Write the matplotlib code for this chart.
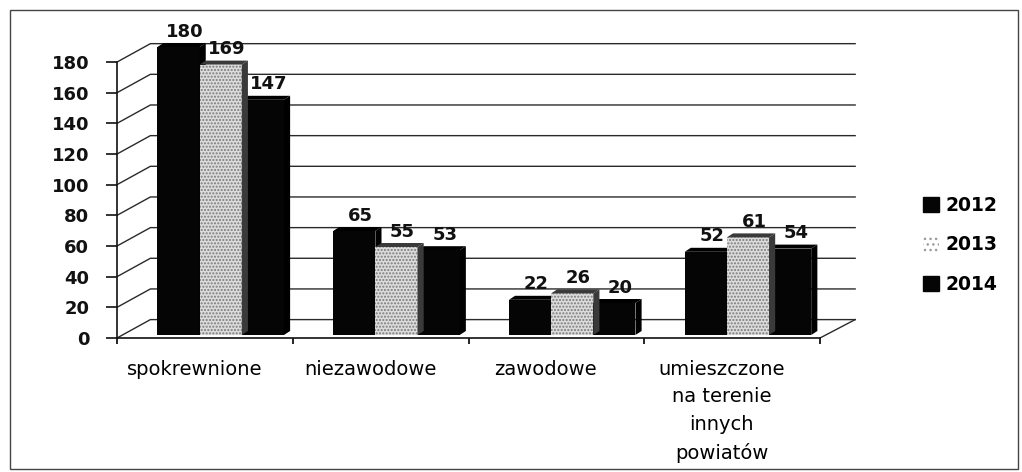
import matplotlib
matplotlib.use("Agg")
import matplotlib.pyplot as plt
from matplotlib.patches import Rectangle, Patch
import numpy as np

categories = ["spokrewnione", "niezawodowe", "zawodowe",
              "umieszczone\nna terenie\ninnych\npowiatów"]
years = ["2012", "2013", "2014"]
v2012 = [180, 65, 22, 52]
v2013 = [169, 55, 26, 61]
v2014 = [147, 53, 20, 54]
series = [v2012, v2013, v2014]
yticks = [0, 20, 40, 60, 80, 100, 120, 140, 160, 180]

plt.rcParams['font.family'] = ['DejaVu Sans']

fig = plt.figure(figsize=(10.22, 4.72), dpi=100)
fig.patch.set_facecolor('white')

# outer frame
fig.add_artist(Rectangle((10/1022, 3/472), 1008/1022, 459/472, transform=fig.transFigure,
                         fill=False, edgecolor='#444444', lw=1.0))

L, B = 117/1022, 134/472
W, H = 4.3*175.75/1022, 308/472

# front (wall/grid) axes
ax = fig.add_axes([L, B, W, H])
ax.set_xlim(0, 4.3)
ax.set_ylim(0, 308/1.533)
ax.patch.set_alpha(0)
for s in ['top', 'right']:
    ax.spines[s].set_visible(False)
ax.spines['left'].set_bounds(0, 180)
ax.spines['bottom'].set_bounds(0, 4)
for s in ['left', 'bottom']:
    ax.spines[s].set_color('#111111')
    ax.spines[s].set_linewidth(1.2)

ax.set_yticks(yticks)
ax.set_yticklabels([str(t) for t in yticks], fontsize=13, fontweight='bold')
ax.tick_params(axis='y', direction='out', length=8, width=1.2, pad=12, colors='#111111')
ax.set_xticks(range(5))
ax.set_xticklabels([])
ax.tick_params(axis='x', which='major', direction='out', length=4, width=1.2)
ax.set_xticks([i + 0.44 for i in range(4)], minor=True)
ax.set_xticklabels(categories, minor=True, fontsize=14, linespacing=1.55, va='top')
ax.tick_params(axis='x', which='minor', length=0, pad=16)

wall_dx, wall_dy = 0.19, 12
for v in yticks:
    ax.plot([0, wall_dx, 4.2], [v, v + wall_dy, v + wall_dy], color='#2a2a2a', lw=1.0, zorder=1)
ax.plot([4.0, 4.2], [0, wall_dy], color='#2a2a2a', lw=1.0, zorder=1)

# bars axes
axb = fig.add_axes([L, B, W, H])
axb.set_xlim(0, 4.3)
lo = -3/1.6
axb.set_ylim(lo, lo + 308/1.6)
axb.axis('off')
axb.patch.set_alpha(0)

bw = 0.24
centers = np.arange(4) + 0.59
dx, dy = 0.035, 2.5
face = ['#050505', '#dcdcdc', '#050505']
dark = ['#000000', '#3a3a3a', '#000000']
hatches = [None, '.....', None]

for j, vals in enumerate(series):
    xs = centers + (j - 1) * bw
    axb.bar(xs, vals, width=bw, color=face[j], hatch=hatches[j],
            edgecolor='#7a7a7a' if hatches[j] else face[j], linewidth=0, zorder=3 + j % 2)
    for x, h in zip(xs, vals):
        x0, x1 = x - bw/2, x + bw/2
        axb.fill([x0, x0 + dx, x1 + dx, x1], [h, h + dy, h + dy, h], color=dark[j], lw=0, zorder=3 + j % 2)
        axb.fill([x1, x1 + dx, x1 + dx, x1], [0, dy, h + dy, h], color=dark[j], lw=0, zorder=3 + j % 2)
        axb.text(x + dx, h + dy + 1.5, str(h), ha='center', va='bottom',
                 fontsize=13, fontweight='bold', color='#111111', zorder=6)

handles = [Patch(facecolor=face[0], edgecolor=face[0]),
           Patch(facecolor='white', edgecolor='#9a9a9a', hatch='...', lw=0),
           Patch(facecolor=face[2], edgecolor=face[2])]
leg = fig.legend(handles, years, loc='center left', bbox_to_anchor=(915/1022, 1 - 245/472),
                 frameon=False, fontsize=13.5, handlelength=0.9, handleheight=0.9,
                 handletextpad=0.3, labelspacing=1.1, borderaxespad=0)
for t in leg.get_texts():
    t.set_fontweight('bold')

fig.savefig("out.png", dpi=100, facecolor='white')
